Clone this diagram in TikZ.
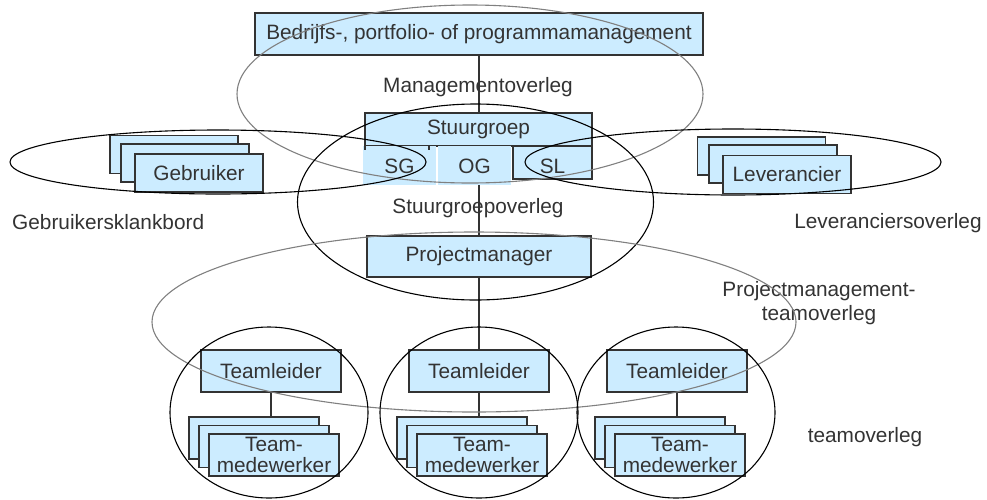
\documentclass[tikz,border=0pt]{standalone}
\usepackage{fontspec}
\setmainfont{Liberation Sans}
\definecolor{boxfill}{HTML}{CCECFF}
\definecolor{boxline}{HTML}{333333}
\definecolor{txt}{HTML}{333333}
\definecolor{ringgray}{HTML}{808080}
\tikzset{
  box/.style={draw=boxline, line width=1.2pt, fill=boxfill, text=txt, inner sep=0pt, align=center},
  cell/.style={fill=boxfill, text=txt, inner sep=0pt},
  lowtext/.style={text height=15pt, text depth=4pt},
  caption/.style={text=txt, inner sep=0pt, align=center},
  link/.style={draw=boxline, line width=1.1pt},
  ringdark/.style={draw=black, line width=1.1pt},
  ringlight/.style={draw=ringgray, line width=1.1pt},
}
\begin{document}
\begin{tikzpicture}[x=1pt, y=-1pt, font=\fontsize{20.8}{24}\selectfont]
\useasboundingbox (0,0) rectangle (987,499);

% --- management level ---
\node[box, minimum width=448pt, minimum height=42pt] (top) at (479,34) {Bedrijfs-, portfolio- of programmamanagement};
\node[caption] (mo) at (478,87) {Managementoverleg};

% --- steering group ---
\node[box, minimum width=227pt, minimum height=33pt] (stuur) at (478.5,129.5) {Stuurgroep};
\node[cell, lowtext, minimum width=73pt, minimum height=39pt] (sg) at (399.5,165.5) {\raisebox{-2pt}{SG}};
\node[cell, lowtext, minimum width=73pt, minimum height=39pt] (og) at (474.5,165.5) {\raisebox{-2pt}{OG}};
\node[box, lowtext, minimum width=79pt, minimum height=33pt] (sl) at (552.5,162.5) {\raisebox{-5pt}{SL}};
\draw[boxline, line width=1.2pt] (365,146) -- (365,150) (429,146) -- (429,150);
\node[caption] (sgo) at (478,208) {Stuurgroepoverleg};

% --- users ---
\node[box, minimum width=128pt, minimum height=38pt] (geb3) at (174,154.5) {};
\node[box, minimum width=128pt, minimum height=38pt] (geb2) at (185,163) {};
\node[box, minimum width=128pt, minimum height=38pt] (geb1) at (199,173) {Gebruiker};
\node[caption, anchor=west] (gkb) at (12,222) {Gebruikersklankbord};

% --- suppliers ---
\node[box, minimum width=128pt, minimum height=38pt] (lev3) at (761.5,156) {};
\node[box, minimum width=128pt, minimum height=38pt] (lev2) at (773,164) {};
\node[box, minimum width=128pt, minimum height=38pt] (lev1) at (787,174.5) {Leverancier};
\node[caption] (lvo) at (888,223) {Leveranciersoverleg};

% --- project manager ---
\node[box, minimum width=224pt, minimum height=41pt] (pm) at (479,256.5) {Projectmanager};
\node[caption] (pmo) at (819,303) {Projectmanagement-\\teamoverleg};

% --- teams ---
\foreach \i/\cx in {1/271, 2/479, 3/677} {
  \node[box, minimum width=140pt, minimum height=42pt] (tl\i) at (\cx,371) {Teamleider};
  \node[box, minimum width=130pt, minimum height=42pt] (mwc\i) at (\cx-17,438) {};
  \node[box, minimum width=130pt, minimum height=42pt] (mwb\i) at (\cx-7,446.5) {};
  \node[box, minimum width=130pt, minimum height=42pt, font=\fontsize{20.8}{21}\selectfont] (mwa\i) at (\cx+3,455) {Team-\\medewerker};
  \draw[link] (tl\i.south) -- (tl\i.south |- mwc\i.north);
}
\node[caption] (tmo) at (865,437) {teamoverleg};

% --- reporting lines ---
\draw[link] (top.south) -- (top.south |- stuur.north);
\draw[link] (og.south -| pm.north) -- (pm.north);
\draw[link] (pm.south) -- (tl2.north);

% --- consultation circles ---
\draw[ringlight] (470,94) ellipse [x radius=233pt, y radius=89pt];
\draw[ringdark] (475.5,202) ellipse [x radius=178pt, y radius=98pt];
\draw[ringdark] (218,162) ellipse [x radius=208pt, y radius=32pt];
\draw[ringdark] (733,162) ellipse [x radius=208pt, y radius=33pt];
\draw[ringlight] (474,322) ellipse [x radius=322pt, y radius=90pt];
\foreach \cx in {269, 479, 676}
  \draw[ringdark] (\cx,412.5) ellipse [x radius=99pt, y radius=85.5pt];
\end{tikzpicture}
\end{document}
